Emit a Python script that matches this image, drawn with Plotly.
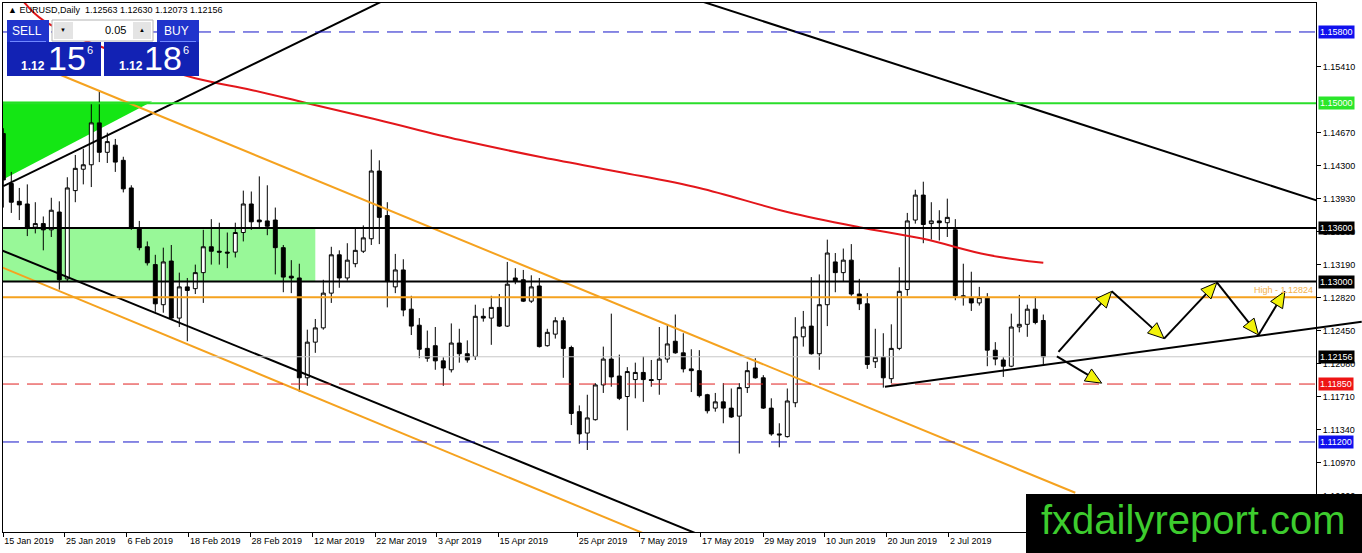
import math
import plotly.graph_objects as go

# EURUSD daily bars, bar 0 = 15 Jan 2019
opens = [1.1466, 1.1410, 1.1390, 1.1387, 1.1361, 1.1365, 1.1358, 1.1378, 1.1303, 1.1402,
         1.1426, 1.1431, 1.1478, 1.1445, 1.1453, 1.1436, 1.1405, 1.1360, 1.1339, 1.1319,
         1.1274, 1.1323, 1.1259, 1.1294, 1.1292, 1.1310, 1.1339, 1.1334, 1.1333, 1.1333,
         1.1355, 1.1387, 1.1369, 1.1368, 1.1369, 1.1338, 1.1306, 1.1304, 1.1192, 1.1232,
         1.1248, 1.1287, 1.1330, 1.1304, 1.1320, 1.1334, 1.1348, 1.1424, 1.1374, 1.1294,
         1.1313, 1.1269, 1.1251, 1.1225, 1.1228, 1.1211, 1.1201, 1.1231, 1.1219, 1.1216,
         1.1261, 1.1259, 1.1271, 1.1250, 1.1304, 1.1302, 1.1278, 1.1295, 1.1228, 1.1241,
         1.1256, 1.1226, 1.1154, 1.1130, 1.1145, 1.1184, 1.1213, 1.1194, 1.1171, 1.1190,
         1.1198, 1.1190, 1.1190, 1.1213, 1.1233, 1.1220, 1.1202, 1.1200, 1.1173, 1.1158,
         1.1165, 1.1158, 1.1149, 1.1181, 1.1203, 1.1192, 1.1158, 1.1129, 1.1126, 1.1164,
         1.1238, 1.1250, 1.1219, 1.1274, 1.1322, 1.1310, 1.1324, 1.1286, 1.1275, 1.1210,
         1.1215, 1.1191, 1.1225, 1.1291, 1.1369, 1.1397, 1.1365, 1.1368, 1.1366, 1.1358,
         1.1284, 1.1282, 1.1276, 1.1282, 1.1223, 1.1212, 1.1205, 1.1249, 1.1252, 1.1269,
         1.12563]
highs = [1.1472, 1.1423, 1.1405, 1.1409, 1.1389, 1.1373, 1.1394, 1.1390, 1.1417, 1.1442,
         1.1449, 1.1500, 1.1513, 1.1467, 1.1460, 1.1440, 1.1408, 1.1368, 1.1345, 1.1330,
         1.1338, 1.1341, 1.1310, 1.1304, 1.1319, 1.1358, 1.1370, 1.1366, 1.1355, 1.1366,
         1.1402, 1.1401, 1.1418, 1.1408, 1.1383, 1.1341, 1.1324, 1.1320, 1.1246, 1.1258,
         1.1302, 1.1339, 1.1335, 1.1343, 1.1359, 1.1363, 1.1448, 1.1436, 1.1389, 1.1331,
         1.1325, 1.1284, 1.1259, 1.1245, 1.1249, 1.1215, 1.1253, 1.1247, 1.1234, 1.1274,
         1.1270, 1.1284, 1.1286, 1.1322, 1.1315, 1.1313, 1.1307, 1.1304, 1.1247, 1.1260,
         1.1260, 1.1228, 1.1161, 1.1173, 1.1186, 1.1227, 1.1264, 1.1218, 1.1204, 1.1209,
         1.1216, 1.1212, 1.1249, 1.1252, 1.1263, 1.1242, 1.1224, 1.1223, 1.1174, 1.1175,
         1.1186, 1.1180, 1.1186, 1.1210, 1.1214, 1.1195, 1.1169, 1.1141, 1.1180, 1.1260,
         1.1267, 1.1305, 1.1308, 1.1347, 1.1332, 1.1337, 1.1342, 1.1303, 1.1287, 1.1247,
         1.1242, 1.1252, 1.1316, 1.1377, 1.1403, 1.1412, 1.1389, 1.1380, 1.1393, 1.1370,
         1.1320, 1.1311, 1.1294, 1.1287, 1.1232, 1.1215, 1.1264, 1.1285, 1.1274, 1.1283,
         1.12630]
lows = [1.1383, 1.1377, 1.1369, 1.1351, 1.1354, 1.1335, 1.1350, 1.1291, 1.1300, 1.1389,
        1.1409, 1.1406, 1.1434, 1.1433, 1.1423, 1.1400, 1.1358, 1.1335, 1.1318, 1.1266,
        1.1265, 1.1257, 1.1249, 1.1233, 1.1286, 1.1276, 1.1319, 1.1319, 1.1315, 1.1327,
        1.1345, 1.1358, 1.1359, 1.1352, 1.1308, 1.1288, 1.1287, 1.1176, 1.1183, 1.1220,
        1.1246, 1.1276, 1.1293, 1.1301, 1.1316, 1.1332, 1.1341, 1.1342, 1.1271, 1.1287,
        1.1261, 1.1240, 1.1214, 1.1210, 1.1201, 1.1183, 1.1198, 1.1209, 1.1209, 1.1212,
        1.1255, 1.1229, 1.1249, 1.1249, 1.1297, 1.1277, 1.1276, 1.1226, 1.1227, 1.1236,
        1.1192, 1.1139, 1.1118, 1.1111, 1.1144, 1.1175, 1.1182, 1.1167, 1.1133, 1.1169,
        1.1165, 1.1182, 1.1173, 1.1209, 1.1219, 1.1198, 1.1176, 1.1170, 1.1152, 1.1154,
        1.1141, 1.1147, 1.1107, 1.1175, 1.1191, 1.1157, 1.1127, 1.1114, 1.1125, 1.1159,
        1.1227, 1.1218, 1.1201, 1.1250, 1.1288, 1.1300, 1.1284, 1.1268, 1.1202, 1.1203,
        1.1181, 1.1186, 1.1223, 1.1284, 1.1365, 1.1343, 1.1347, 1.1346, 1.1350, 1.1279,
        1.1273, 1.1267, 1.1273, 1.1205, 1.1206, 1.1193, 1.1204, 1.1243, 1.1238, 1.1252,
        1.12073]
closes = [1.1414, 1.1389, 1.1386, 1.1361, 1.1365, 1.1358, 1.1380, 1.1302, 1.1405, 1.1427,
          1.1431, 1.1478, 1.1445, 1.1457, 1.1434, 1.1404, 1.1361, 1.1338, 1.1321, 1.1275,
          1.1322, 1.1259, 1.1294, 1.1290, 1.1310, 1.1339, 1.1334, 1.1333, 1.1332, 1.1355,
          1.1387, 1.1367, 1.1367, 1.1362, 1.1338, 1.1305, 1.1304, 1.1192, 1.1232, 1.1248,
          1.1287, 1.1330, 1.1304, 1.1324, 1.1335, 1.1349, 1.1424, 1.1372, 1.1300, 1.1313,
          1.1268, 1.1250, 1.1224, 1.1214, 1.1211, 1.1203, 1.1231, 1.1219, 1.1212, 1.1261,
          1.1259, 1.1271, 1.1250, 1.1297, 1.1300, 1.1278, 1.1294, 1.1227, 1.1243, 1.1256,
          1.1225, 1.1152, 1.1129, 1.1147, 1.1184, 1.1213, 1.1193, 1.1169, 1.1199, 1.1198,
          1.1190, 1.1189, 1.1213, 1.1230, 1.1220, 1.1202, 1.1200, 1.1172, 1.1155, 1.1165,
          1.1158, 1.1148, 1.1181, 1.1200, 1.1192, 1.1158, 1.1129, 1.1128, 1.1166, 1.1238,
          1.1249, 1.1219, 1.1274, 1.1332, 1.1310, 1.1324, 1.1286, 1.1275, 1.1207, 1.1215,
          1.1192, 1.1225, 1.1289, 1.1368, 1.1397, 1.1364, 1.1368, 1.1366, 1.1372, 1.1284,
          1.1282, 1.1276, 1.1282, 1.1223, 1.1213, 1.1205, 1.1249, 1.1252, 1.1269, 1.1254,
          1.12156]
bars = list(range(len(opens)))

# moving average readings (bar, price)
ma_bars = [2, 5, 15, 24, 31, 38, 47, 57, 67, 77, 87, 98, 107, 115, 123, 130]
ma_vals = [1.1620, 1.1593, 1.1554, 1.1528, 1.1515, 1.1500, 1.1481, 1.1459,
           1.1440, 1.1423, 1.1405, 1.1378, 1.1361, 1.1348, 1.1330, 1.1321]

# date labels on the time axis and the bar they sit on
date_labels = ['15 Jan 2019', '25 Jan 2019', '6 Feb 2019', '18 Feb 2019', '28 Feb 2019',
               '12 Mar 2019', '22 Mar 2019', '3 Apr 2019', '15 Apr 2019', '25 Apr 2019',
               '7 May 2019', '17 May 2019', '29 May 2019', '10 Jun 2019', '20 Jun 2019',
               '2 Jul 2019']
date_bars = [0, 7.7, 15.4, 23.2, 30.9, 38.7, 46.5, 54.2, 61.9, 71.8,
             79.5, 87.2, 95.0, 102.7, 110.4, 118.2]

# price scale ticks (the ones sitting under the 1.158 / 1.150 tags are hidden in the original)
price_ticks = [1.10600, 1.10970, 1.11340, 1.11710, 1.12080, 1.12450, 1.12820, 1.13190,
               1.13560, 1.13930, 1.14300, 1.14670, 1.15410]

# horizontal levels
level_vals = [1.15800, 1.15000, 1.13600, 1.13000, 1.12824, 1.12156, 1.11850, 1.11200]

# trend lines: anchor bars and prices
trend_lines = {
    'up_left':    ([0, 50], [1.1407, 1.1626]),
    'down_right': ([85, 170], [1.1621, 1.1374]),
    'chan_black': ([-1, 90], [1.1338, 1.1005]),
    'chan_or_up': ([3.3, 134.0], [1.1546, 1.1063]),
    'chan_or_lo': ([-1, 85], [1.1319, 1.0999]),
}
support_bars = [110.2, 169.8]
support_prices = [1.1182, 1.1255]

# projected path arrows (start bar, start price, end bar, end price)
arrows = [
    (131.9, 1.1221, 138.55, 1.1289),
    (138.55, 1.1289, 145.1, 1.1236),
    (145.1, 1.1236, 151.7, 1.1299),
    (151.7, 1.1299, 156.9, 1.1240),
    (156.9, 1.1240, 160.2, 1.1289),
    (131.7, 1.1216, 137.3, 1.1186),
]

green_zone = ([-1, 18.6, -1], [1.1410, 1.1502, 1.1502])
box_zone = ([-1, 39], [1.1300, 1.1360])

# ---- geometry
W, H = 1362, 553
PL, PT, PW, PH = 3, 3, 1313, 529
X0, X1 = -0.0375, 164.0875
Y0, Y1 = 1.10190, 1.16125
FONT = 'Liberation Sans, Arial'


def px(b):
    return PL + (b - X0) / (X1 - X0) * PW


def py(p):
    return PT + (Y1 - p) / (Y1 - Y0) * PH


def paper(x, y):
    return (x - PL) / PW, (PT + PH - y) / PH


def rect(x0, y0, x1, y1, fill, line=None):
    a = paper(x0, y0)
    b = paper(x1, y1)
    return dict(type='rect', xref='paper', yref='paper', x0=a[0], y0=a[1], x1=b[0], y1=b[1],
                fillcolor=fill, line=dict(width=1 if line else 0, color=line or fill), layer='above')


def text(x, y, s, size, color='white', xanchor='center', bold=False):
    a = paper(x, y)
    if bold:
        s = '<b>' + s + '</b>'
    return dict(x=a[0], y=a[1], xref='paper', yref='paper', text=s, showarrow=False,
                xanchor=xanchor, yanchor='middle', font=dict(family=FONT, size=size, color=color))


fig = go.Figure()

fig.add_trace(go.Candlestick(
    x=bars, open=opens, high=highs, low=lows, close=closes,
    increasing=dict(line=dict(color='black', width=1), fillcolor='white'),
    decreasing=dict(line=dict(color='black', width=1), fillcolor='black'),
    whiskerwidth=0, showlegend=False, hoverinfo='skip'))

fig.add_trace(go.Scatter(x=ma_bars, y=ma_vals, mode='lines', showlegend=False, hoverinfo='skip',
                         line=dict(color='#e3161b', width=2, shape='spline')))

tl_colors = {'up_left': 'black', 'down_right': 'black', 'chan_black': 'black',
             'chan_or_up': '#f5a21f', 'chan_or_lo': '#f5a21f'}
for name, (tb, tp) in trend_lines.items():
    fig.add_trace(go.Scatter(x=tb, y=tp, mode='lines', showlegend=False, hoverinfo='skip',
                             line=dict(color=tl_colors[name], width=2)))

shapes = []
annotations = []

# background zones
shapes.append(dict(type='path', xref='x', yref='y', layer='below',
                   path='M {} {} L {} {} L {} {} Z'.format(green_zone[0][0], green_zone[1][0],
                                                          green_zone[0][1], green_zone[1][1],
                                                          green_zone[0][2], green_zone[1][2]),
                   fillcolor='#14e614', line=dict(width=0)))
shapes.append(dict(type='rect', xref='x', yref='y', layer='below',
                   x0=box_zone[0][0], x1=box_zone[0][1], y0=box_zone[1][0], y1=box_zone[1][1],
                   fillcolor='#98f898', line=dict(width=0)))

# horizontal levels
lvl_style = [
    ('#1414c8', 1, '16px,8px', '#1010ee'),
    ('#2ade2a', 2, 'solid', '#2ae62a'),
    ('black', 2, 'solid', 'black'),
    ('black', 2, 'solid', 'black'),
    ('#f5a21f', 2, 'solid', None),
    ('#c8c8c8', 1, 'solid', 'black'),
    ('#e01e1e', 1, '16px,8px', '#ee1414'),
    ('#1414c8', 1, '16px,8px', '#1010ee'),
]
for v, (col, wd, dash, lab) in zip(level_vals, lvl_style):
    shapes.append(dict(type='line', xref='x', yref='y', x0=X0, x1=X1, y0=v, y1=v, layer='above',
                       line=dict(color=col, width=wd, dash=dash)))
    if lab:
        annotations.append(dict(x=1, y=v, xref='paper', yref='y', xanchor='left', yanchor='middle',
                                xshift=2, text='{:.5f}'.format(v), showarrow=False,
                                bgcolor=lab, borderpad=1,
                                font=dict(family=FONT, size=9, color='white')))
annotations.append(dict(x=1, y=level_vals[4], xref='paper', yref='y', xanchor='right',
                        yanchor='bottom', xshift=-1, text='High - {:.5f}'.format(level_vals[4]),
                        showarrow=False, font=dict(family=FONT, size=9, color='#f4b24a')))

# rising support line, runs past the price scale
a = paper(px(support_bars[0]), py(support_prices[0]))
b = paper(px(support_bars[1]), py(support_prices[1]))
shapes.append(dict(type='line', xref='paper', yref='paper', x0=a[0], y0=a[1], x1=b[0], y1=b[1],
                   layer='above', line=dict(color='black', width=2)))

# arrows: black shaft, yellow head
for sb, sp, eb, ep in arrows:
    sx, sy, ex, ey = px(sb), py(sp), px(eb), py(ep)
    L = math.hypot(ex - sx, ey - sy)
    dx, dy = (ex - sx) / L, (ey - sy) / L
    nx, ny = -dy, dx
    bx, by = ex - dx * 16, ey - dy * 16
    s0, s1 = paper(sx, sy), paper(bx, by)
    shapes.append(dict(type='line', xref='paper', yref='paper', x0=s0[0], y0=s0[1],
                       x1=s1[0], y1=s1[1], layer='above', line=dict(color='black', width=2)))
    pts = [paper(ex, ey), paper(bx + nx * 7, by + ny * 7), paper(bx - nx * 7, by - ny * 7)]
    path = 'M {} {} L {} {} L {} {} Z'.format(pts[0][0], pts[0][1], pts[1][0], pts[1][1],
                                              pts[2][0], pts[2][1])
    shapes.append(dict(type='path', xref='paper', yref='paper', path=path, layer='above',
                       fillcolor='#f2f20a', line=dict(color='black', width=1)))

# one-click trading panel
shapes += [
    rect(7, 42, 101, 76, '#1222b4'),
    rect(7, 20, 49, 42, '#2034cc'),
    rect(104, 42, 199, 76, '#1222b4'),
    rect(157, 20, 199, 42, '#2034cc'),
    rect(52, 20, 153, 41, 'white', '#b4b4b4'),
    rect(54, 22, 73, 39, '#e4e4e4'),
    rect(133, 22, 151, 39, '#e4e4e4'),
    rect(10, 41, 46, 42, '#7088ff'),
    rect(160, 41, 196, 42, '#7088ff'),
]
annotations += [
    text(6, 10, '\u25b2 EURUSD,Daily  1.12563 1.12630 1.12073 1.12156', 9, 'black', 'left'),
    text(27, 31, 'SELL', 12),
    text(176, 31, 'BUY', 12),
    text(63, 30, '\u25bc', 6, 'black'),
    text(142, 30, '\u25b2', 6, 'black'),
    text(128, 30, '0.05', 11, 'black', 'right'),
    text(33, 66, '1.12', 12, bold=True),
    text(67, 58, '15', 34),
    text(90, 50, '6', 11),
    text(131, 66, '1.12', 12, bold=True),
    text(163, 58, '18', 34),
    text(186, 50, '6', 11),
]

# watermark
shapes.append(rect(1026, 494, 1362, 553, 'black'))
annotations.append(text(1193, 520, 'fxdailyreport.com', 40, '#3dcc2e'))

fig.update_layout(
    width=W, height=H,
    margin=dict(l=PL, r=W - PL - PW, t=PT, b=H - PT - PH, autoexpand=False),
    paper_bgcolor='white', plot_bgcolor='white',
    shapes=shapes, annotations=annotations,
    xaxis=dict(range=[X0, X1], rangeslider=dict(visible=False), showgrid=False, zeroline=False,
               showline=True, linecolor='black', linewidth=1, mirror=True,
               ticks='outside', ticklen=4, tickcolor='black',
               tickvals=date_bars, ticktext=date_labels, ticklabelposition='outside right',
               tickfont=dict(family=FONT, size=9, color='black'), automargin=False),
    yaxis=dict(range=[Y0, Y1], side='right', showgrid=False, zeroline=False,
               showline=True, linecolor='black', linewidth=1, mirror=True,
               ticks='outside', ticklen=4, tickcolor='black',
               tickvals=price_ticks, tickformat='.5f',
               tickfont=dict(family=FONT, size=9, color='black'), automargin=False),
)

# the page body has a default 8px margin; drop it so the figure sits at the window corner
fig.write_html('out.html', config={'displayModeBar': False},
               post_script="document.body.style.margin='0';")
